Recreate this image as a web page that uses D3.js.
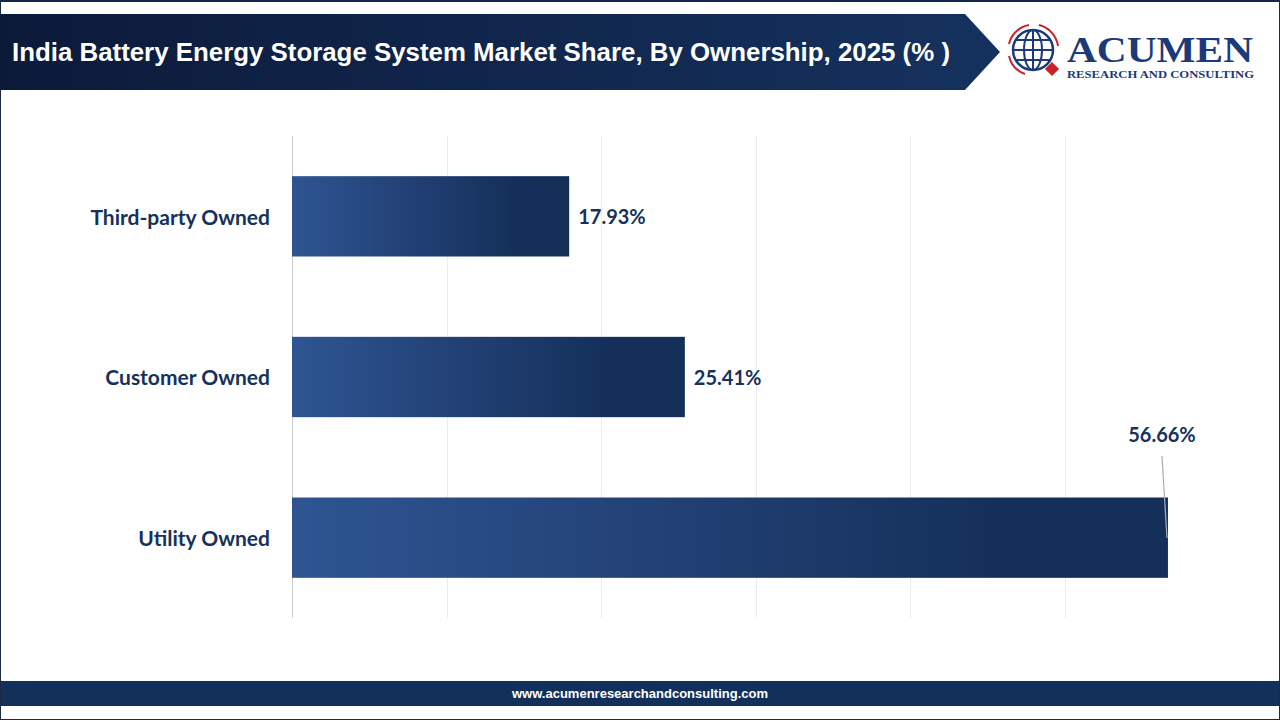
<!DOCTYPE html>
<html><head><meta charset="utf-8">
<script src="https://cdn.jsdelivr.net/npm/d3@7"></script>
<style>body{margin:0;background:#fff}svg{display:block}</style>
</head><body>
<svg id="c" width="1280" height="720"></svg>
<script>
const categories = ["Third-party Owned", "Customer Owned", "Utility Owned"];
const values = [17.93, 25.41, 56.66];
const valueLabels = ["17.93%", "25.41%", "56.66%"];
const gridTicks = [0, 10, 20, 30, 40, 50];
const title = "India Battery Energy Storage System Market Share, By Ownership, 2025 (% )";
const footer = "www.acumenresearchandconsulting.com";

const svg = d3.select("#c");
const defs = svg.append("defs");
const hg = defs.append("linearGradient").attr("id","hdr").attr("x1","0").attr("x2","1");
hg.append("stop").attr("offset","0").attr("stop-color","#0c1a3a");
hg.append("stop").attr("offset","1").attr("stop-color","#15325e");
const bg = defs.append("linearGradient").attr("id","bar").attr("x1","0").attr("x2","1");
bg.append("stop").attr("offset","0").attr("stop-color","#2e5592");
bg.append("stop").attr("offset","0.45").attr("stop-color","#213f73");
bg.append("stop").attr("offset","0.8").attr("stop-color","#14305a");
bg.append("stop").attr("offset","1").attr("stop-color","#142f58");

// border
svg.append("rect").attr("x",0.5).attr("y",0.5).attr("width",1279).attr("height",719)
  .attr("fill","#fff").attr("stroke","#1b2a44").attr("stroke-width",1);
svg.append("rect").attr("x",0).attr("y",0).attr("width",1280).attr("height",2).attr("fill","#13284a");

// header banner
svg.append("path").attr("d","M0,14 L965,14 L1000,52 L965,90 L0,90 Z").attr("fill","url(#hdr)");
svg.append("text").attr("x",12).attr("y",61).attr("fill","#fff")
  .attr("font-family","'Liberation Sans Narrow','Arial Narrow',Arial,sans-serif")
  .attr("font-weight","bold").attr("font-size",25).attr("textLength",938).attr("lengthAdjust","spacingAndGlyphs")
  .text(title);

// logo
const lg = svg.append("g").attr("transform","translate(1033,50)");
lg.append("circle").attr("r",20).attr("fill","none").attr("stroke","#1c3a7a").attr("stroke-width",2.5);
lg.append("ellipse").attr("rx",9).attr("ry",20).attr("fill","none").attr("stroke","#1c3a7a").attr("stroke-width",2);
lg.append("line").attr("x1",-20).attr("x2",20).attr("stroke","#1c3a7a").attr("stroke-width",2);
lg.append("line").attr("y1",-20).attr("y2",20).attr("stroke","#1c3a7a").attr("stroke-width",2);
lg.append("line").attr("x1",-17).attr("x2",17).attr("y1",-10).attr("y2",-10).attr("stroke","#1c3a7a").attr("stroke-width",1.8);
lg.append("line").attr("x1",-17).attr("x2",17).attr("y1",10).attr("y2",10).attr("stroke","#1c3a7a").attr("stroke-width",1.8);
lg.append("path").attr("d","M-24,-6 A25,25 0 0 1 -4,-25").attr("fill","none").attr("stroke","#c8232c").attr("stroke-width",2);
lg.append("path").attr("d","M6,-25 A25,25 0 0 1 25,-4").attr("fill","none").attr("stroke","#c8232c").attr("stroke-width",2);
lg.append("path").attr("d","M-24,6 A25,25 0 0 0 -8,24").attr("fill","none").attr("stroke","#c8232c").attr("stroke-width",2);
lg.append("rect").attr("x",14).attr("y",14).attr("width",10).attr("height",10).attr("fill","#c8232c").attr("transform","rotate(45 19 19)");
svg.append("text").attr("x",1067).attr("y",62).attr("fill","#1c3a7a")
  .attr("font-family","'Liberation Serif','DejaVu Serif',serif").attr("font-weight","bold").attr("font-size",36)
  .attr("textLength",186).attr("lengthAdjust","spacingAndGlyphs").text("ACUMEN");
svg.append("text").attr("x",1067).attr("y",78).attr("fill","#1c3a7a")
  .attr("font-family","'Liberation Serif','DejaVu Serif',serif").attr("font-weight","bold").attr("font-size",10)
  .attr("textLength",187).attr("lengthAdjust","spacingAndGlyphs").text("RESEARCH AND CONSULTING");

// chart
const x = d3.scaleLinear().domain([0, 10]).range([292, 446.6]);
const y = d3.scaleBand().domain(categories).range([136, 618]).paddingInner(0.5).paddingOuter(0.25);

const grid = svg.append("g");
grid.selectAll("line").data(gridTicks).join("line")
  .attr("x1", d => Math.round(x(d)) + 0.5).attr("x2", d => Math.round(x(d)) + 0.5)
  .attr("y1", 136).attr("y2", 618)
  .attr("stroke", d => d === 0 ? "#cfcfcf" : "#ececec").attr("stroke-width", 1);

svg.append("g").selectAll("rect").data(values).join("rect")
  .attr("x", x(0)).attr("y", (d,i) => y(categories[i]))
  .attr("width", d => x(d) - x(0)).attr("height", y.bandwidth())
  .attr("fill", "url(#bar)");

const yAxis = d3.axisLeft(y).tickSize(0).tickPadding(22);
const ya = svg.append("g").attr("transform", `translate(${x(0)},0)`).call(yAxis);
ya.select(".domain").remove();
ya.selectAll("text").attr("font-family","Lato,'Open Sans',sans-serif").attr("font-weight","bold")
  .attr("font-size",21).attr("fill","#16325c").attr("dy","0.4em");

// value labels
const lab = svg.append("g").attr("font-family","Lato,'Open Sans',sans-serif").attr("font-weight","bold")
  .attr("font-size",20).attr("fill","#16325c");
values.forEach((v, i) => {
  const cy = y(categories[i]) + y.bandwidth()/2;
  if (i < 2) {
    lab.append("text").attr("x", x(v) + 9).attr("y", cy).attr("dy","0.4em").text(valueLabels[i]);
  } else {
    lab.append("text").attr("x", x(v) - 6).attr("y", 442).attr("text-anchor","middle").text(valueLabels[i]);
    svg.append("line").attr("x1", x(v) - 6).attr("y1", 456).attr("x2", x(v) - 1).attr("y2", 538)
      .attr("stroke","#a8adb5").attr("stroke-width",1.2);
  }
});

// footer
svg.append("rect").attr("x",1).attr("y",681).attr("width",1278).attr("height",25).attr("fill","#13305a");
svg.append("text").attr("x",640).attr("y",698).attr("text-anchor","middle").attr("fill","#fff")
  .attr("font-family","'Liberation Sans Narrow','Arial Narrow',Arial,sans-serif").attr("font-weight","bold").attr("font-size",13)
  .text(footer);
</script>
</body></html>
